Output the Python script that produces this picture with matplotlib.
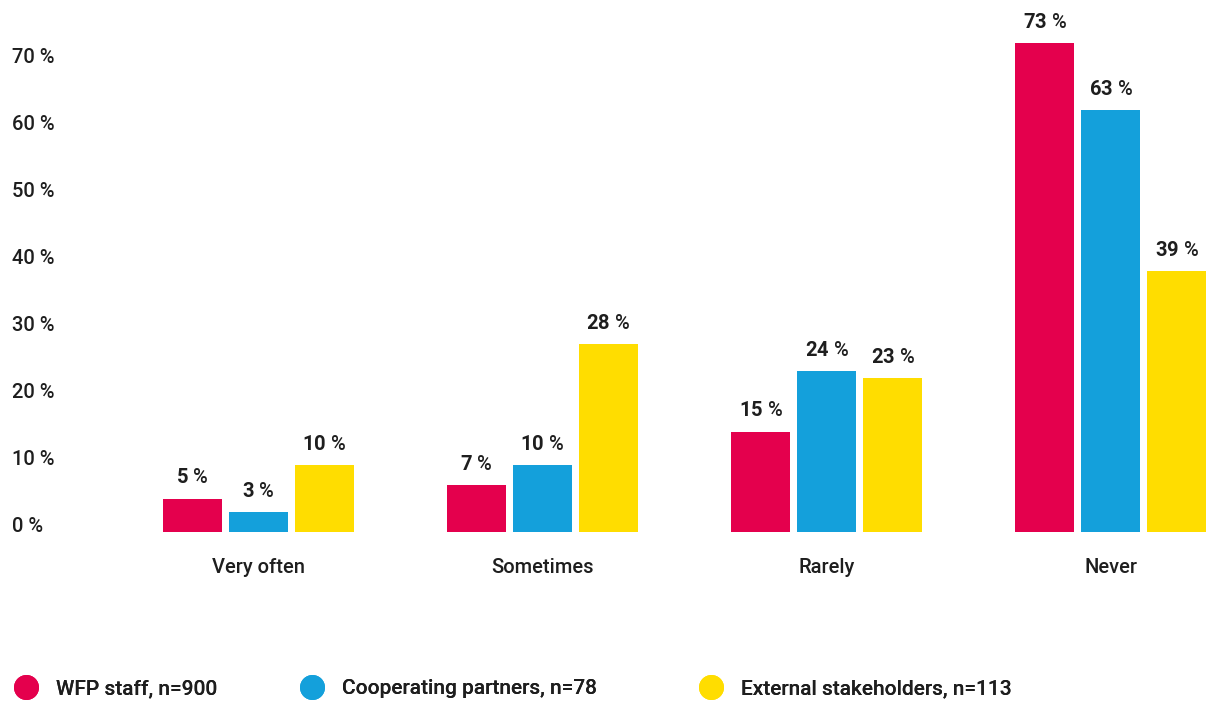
import matplotlib
matplotlib.use("Agg")
import matplotlib.pyplot as plt
import numpy as np
from matplotlib.lines import Line2D

plt.rcParams['font.family'] = ['Roboto', 'DejaVu Sans']
plt.rcParams['font.weight'] = 'medium'
plt.rcParams['mathtext.fontset'] = 'custom'
plt.rcParams['mathtext.rm'] = 'Roboto:medium'
plt.rcParams['mathtext.bf'] = 'Roboto:bold'

categories = ["Very often", "Sometimes", "Rarely", "Never"]
series_names = ["WFP staff, n=900", "Cooperating partners, n=78", "External stakeholders, n=113"]
wfp_staff = [5, 7, 15, 73]
coop_partners = [3, 10, 24, 63]
external = [10, 28, 23, 39]
y_ticks = [0, 10, 20, 30, 40, 50, 60, 70]
y_tick_labels = ["0 %", "10 %", "20 %", "30 %", "40 %", "50 %", "60 %", "70 %"]

colors = ["#E4004D", "#14A0DB", "#FFDD00"]
text_color = "#1e1e1e"

W, H = 1213, 704
fig = plt.figure(figsize=(W / 100, H / 100), dpi=100)
# axes: baseline at y=532px, top at 10px; full width
ax = fig.add_axes([0.0, (H - 532) / H, 1.0, (532 - 10) / H])

x = np.arange(len(categories))
px_per_unit = 284.3
ax.set_xlim((0 - 258) / px_per_unit, (W - 258) / px_per_unit)
ax.set_ylim(0, (532 - 10) / 6.7)

bar_w = 59 / px_per_unit
pitch = 66 / px_per_unit
all_series = [wfp_staff, coop_partners, external]
for i, (vals, c) in enumerate(zip(all_series, colors)):
    bars = ax.bar(x + (i - 1) * pitch, vals, width=bar_w, color=c, edgecolor='none')
    for b, v in zip(bars, vals):
        ax.annotate(f"$\\mathbf{{{v}}}$ %", (b.get_x() + b.get_width() / 2, b.get_height()),
                    xytext=(0, 8), textcoords='offset points', ha='center', va='bottom',
                    fontsize=14.5, color=text_color)

for s in ax.spines.values():
    s.set_visible(False)

ax.set_xticks(x, categories)
ax.tick_params(axis='x', length=0, pad=19, labelsize=14.5, labelcolor=text_color)
for lbl in ax.get_xticklabels():
    lbl.set_verticalalignment('top')

ax.set_yticks(y_ticks, y_tick_labels)
ax.tick_params(axis='y', length=0, pad=-9, labelsize=14.5, labelcolor=text_color)
for lbl in ax.get_yticklabels():
    lbl.set_horizontalalignment('left')
    lbl.set_verticalalignment('baseline')

# legend: one entry per legend box, placed like the reference
legend_left_px = [13.5, 299.5, 698.5]
for name, c, lx in zip(series_names, colors, legend_left_px):
    h = Line2D([], [], marker='o', linestyle='none', markersize=18,
               markerfacecolor=c, markeredgecolor='none')
    leg = fig.legend([h], [name], loc='center left', bbox_to_anchor=(lx / W, 1 - 689 / H),
                     frameon=False, fontsize=15, handlelength=1.2, handletextpad=0.85,
                     labelcolor=text_color, borderaxespad=0, borderpad=0)
    fig.add_artist(leg)

fig.savefig("out.png", dpi=100)
